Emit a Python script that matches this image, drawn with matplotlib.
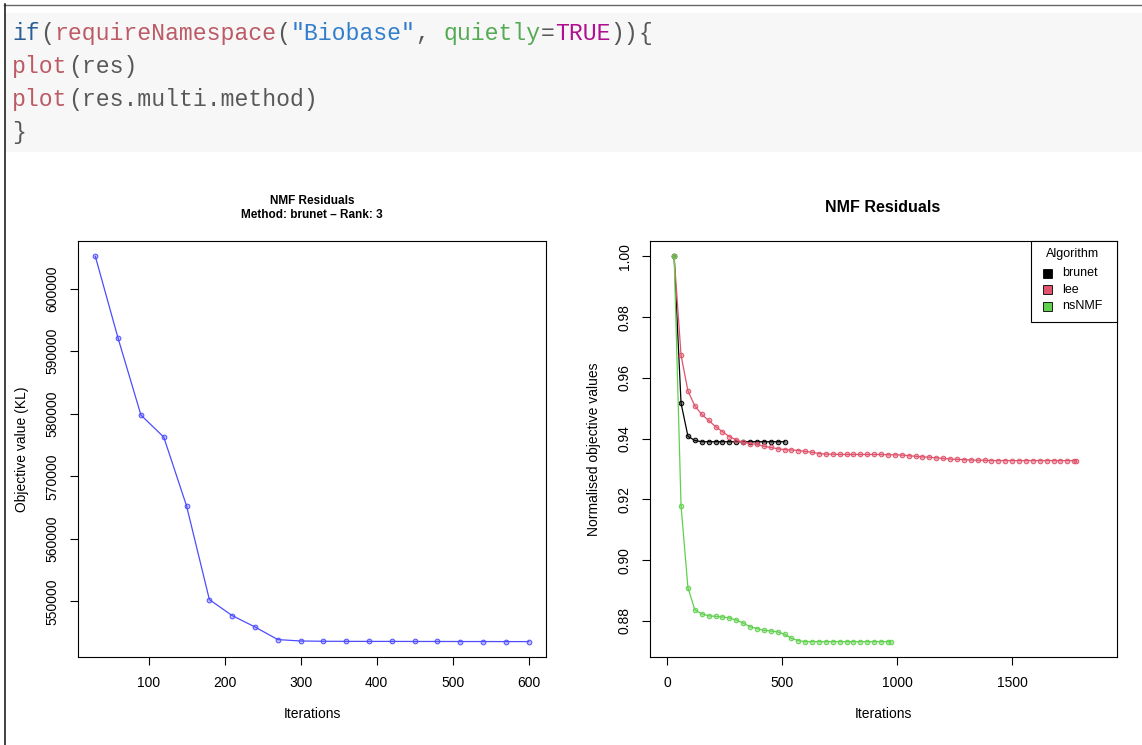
import matplotlib
matplotlib.use('Agg')
import numpy as np
import matplotlib.pyplot as plt
from matplotlib.patches import Rectangle
from matplotlib.lines import Line2D

plt.rcParams['font.family'] = ['Liberation Sans', 'DejaVu Sans']

# ---- data ----
# left panel: single brunet run, rank 3
res_iter = list(range(30, 601, 30))
res_kl = [605175, 592050, 579790, 576270, 565250, 550270, 547710, 545890,
          543870, 543650, 543600, 543590, 543580, 543580, 543570, 543570,
          543560, 543560, 543550, 543550]

# right panel: normalised objective per algorithm
brunet_iter = list(range(30, 511, 30))
brunet_val = [1.0, 0.9517, 0.9408, 0.9394] + [0.9390] * 13

lee_iter = list(range(30, 1771, 30)) + [1778]
lee_val = [1.0, 0.9675, 0.9557, 0.9508, 0.9480, 0.9460, 0.9440, 0.9423,
           0.9407, 0.9396, 0.9388, 0.9384, 0.9381, 0.9375, 0.9371, 0.9367,
           0.9364, 0.9363, 0.9361, 0.9358, 0.9355, 0.9351, 0.9349, 0.9349,
           0.9348, 0.9348, 0.9348, 0.9348, 0.9348, 0.9348, 0.9348, 0.9347,
           0.9347, 0.9346, 0.9344, 0.9342, 0.9340, 0.9339, 0.9337, 0.9335,
           0.9333, 0.9332, 0.9331, 0.9330, 0.9329, 0.9329] + [0.9328] * 14

nsnmf_iter = list(range(30, 961, 30)) + [971]
nsnmf_val = [1.0, 0.9179, 0.8909, 0.8837, 0.8823, 0.8817, 0.8815, 0.8813,
             0.8810, 0.8803, 0.8793, 0.8781, 0.8775, 0.8769, 0.8767, 0.8764,
             0.8756, 0.8743, 0.8735] + [0.8732] * 14

algorithms = ['brunet', 'lee', 'nsNMF']
algo_colors = ['#000000', '#DF536B', '#61D04F']

W, H = 1142, 745
fig = plt.figure(figsize=(W / 100, H / 100), dpi=100)


def fx(x):
    return x / W


def fy(y):
    return 1 - y / H


def add_box(l, t, r, b):
    return fig.add_axes([fx(l), fy(b), (r - l) / W, (b - t) / H])


# ---- code chunk on top ----
fig.patches.append(Rectangle((fx(5), fy(152)), 1 - fx(5), (152 - 13) / H,
                             transform=fig.transFigure, facecolor='#f7f7f7',
                             edgecolor='none', zorder=0))
fig.add_artist(Line2D([fx(4), 1], [fy(4.5), fy(4.5)], color='#666666', lw=1.0))
fig.add_artist(Line2D([fx(4.5), fx(4.5)], [0, fy(4)], color='#222222', lw=1.2))

STD, KW, FN, STR, ARG, NUM = '#585858', '#295F94', '#BC5A65', '#317ECC', '#55AA55', '#AF0F91'
code_lines = [
    [('if', KW), ('(', STD), ('requireNamespace', FN), ('(', STD),
     ('"Biobase"', STR), (', ', STD), ('quietly', ARG), ('=', STD),
     ('TRUE', NUM), ('))', STD), ('{', STD)],
    [('plot', FN), ('(res)', STD)],
    [('plot', FN), ('(res.multi.method)', STD)],
    [('}', STD)],
]
code_fs = 16.7
char_w = 0.6 * code_fs * 100 / 72
for i, segs in enumerate(code_lines):
    col = 0
    for txt, c in segs:
        fig.text(fx(12 + col * char_w), fy(40 + i * 33), txt, color=c,
                 fontsize=code_fs, family='Liberation Mono', va='baseline')
        col += len(txt)


def r_style(ax):
    for s in ax.spines.values():
        s.set_linewidth(0.8)
    ax.tick_params(direction='out', length=6, width=0.8, labelsize=10,
                   colors='black')
    ax.tick_params(axis='x', pad=7.5)
    ax.tick_params(axis='y', pad=7.2, labelrotation=90)


# ---- left panel ----
ax1 = add_box(78, 241, 546, 657)
ax1.plot(res_iter, res_kl, color='#4d4dff', lw=0.9, marker='o', ms=3.4,
         mfc=(0.3, 0.3, 1.0, 0.35), mec='#4d4dff', mew=0.7)
ax1.margins(x=0.04, y=0.04)
ax1.set_xticks([100, 200, 300, 400, 500, 600])
ax1.set_yticks([550000, 560000, 570000, 580000, 590000, 600000])
r_style(ax1)
plt.setp(ax1.get_yticklabels(), va='center')

fig.text(fx(312), fy(201), 'NMF Residuals', fontsize=8.5, fontweight='bold',
         ha='center', va='center')
fig.text(fx(312), fy(215), 'Method: brunet \u2013 Rank: 3', fontsize=8.5,
         fontweight='bold', ha='center', va='center')
fig.text(fx(312), fy(714), 'Iterations', fontsize=10, ha='center', va='center')
fig.text(fx(22), fy(449), 'Objective value (KL)', fontsize=10, rotation=90,
         ha='center', va='center')

# ---- right panel ----
ax2 = add_box(650, 241, 1117, 657)
series = [(brunet_iter, brunet_val), (lee_iter, lee_val), (nsnmf_iter, nsnmf_val)]
for (xs, ys), c in zip(series, algo_colors):
    rgb = matplotlib.colors.to_rgb(c)
    ax2.plot(xs, ys, color=c, lw=0.9, marker='o', ms=3.3,
             mfc=(*rgb, 0.45), mec=c, mew=0.7)
ax2.margins(y=0.04)
ax2.set_xlim(-75, 1956)
ax2.set_xticks([0, 500, 1000, 1500])
ax2.set_yticks([0.88, 0.90, 0.92, 0.94, 0.96, 0.98, 1.00])
ax2.set_yticklabels(['%.2f' % v for v in ax2.get_yticks()])
r_style(ax2)
plt.setp(ax2.get_yticklabels(), va='center')

fig.text(fx(883), fy(208), 'NMF Residuals', fontsize=11.5, fontweight='bold',
         ha='center', va='center')
fig.text(fx(883), fy(714), 'Iterations', fontsize=10, ha='center', va='center')
fig.text(fx(594), fy(449), 'Normalised objective values', fontsize=10,
         rotation=90, ha='center', va='center')

# legend box (R style, top right inside the plot)
lg_l, lg_t, lg_r, lg_b = 1031, 241, 1117, 322
fig.patches.append(Rectangle((fx(lg_l), fy(lg_b)), (lg_r - lg_l) / W,
                             (lg_b - lg_t) / H, transform=fig.transFigure,
                             facecolor='white', edgecolor='black', lw=0.8,
                             zorder=5))
fig.text(fx(1073), fy(254), 'Algorithm', fontsize=9, ha='center',
         va='center', zorder=6)
for i, (name, c) in enumerate(zip(algorithms, algo_colors)):
    yc = 273 + i * 16.7
    fig.patches.append(Rectangle((fx(1043), fy(yc + 4.5)), 9 / W, 9 / H,
                                 transform=fig.transFigure, facecolor=c,
                                 edgecolor='black', lw=0.6, zorder=6))
    fig.text(fx(1062), fy(yc), name, fontsize=9, ha='left', va='center',
             zorder=6)

fig.savefig('out.png', dpi=100)
